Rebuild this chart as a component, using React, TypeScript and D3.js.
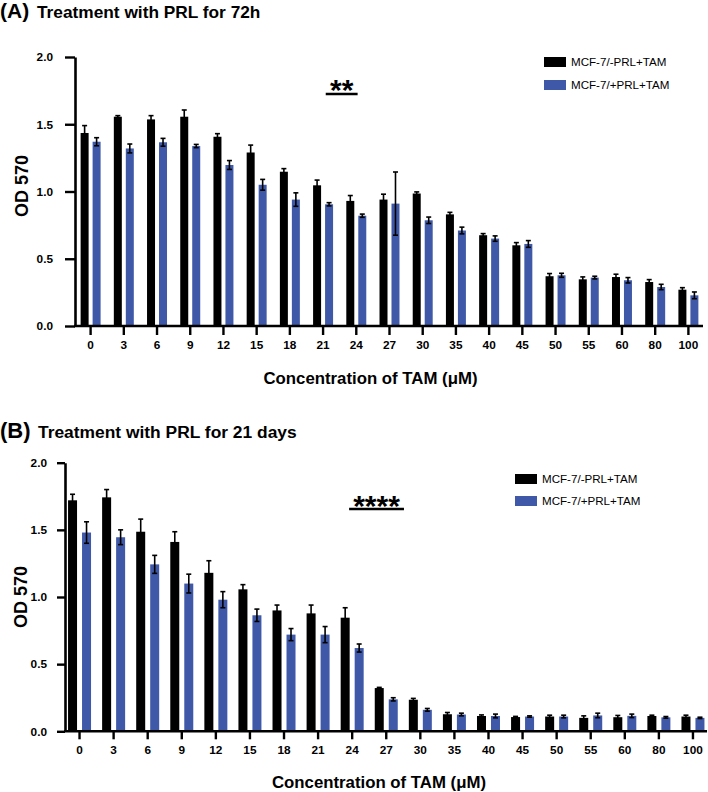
import React, { useEffect, useRef } from 'react';
import * as d3 from 'd3';

const concentrations = ['0', '3', '6', '9', '12', '15', '18', '21', '24', '27', '30', '35', '40', '45', '50', '55', '60', '80', '100'];
const seriesLabels = ['MCF-7/-PRL+TAM', 'MCF-7/+PRL+TAM'];
const seriesColors = ['#000000', '#3f59a8'];
const yTicks = [0, 0.5, 1.0, 1.5, 2.0];

// (A) 72h treatment
const a72NoPrl = [1.435, 1.556, 1.536, 1.556, 1.407, 1.29, 1.147, 1.046, 0.93, 0.94, 0.985, 0.83, 0.675, 0.6, 0.37, 0.347, 0.364, 0.327, 0.27];
const a72NoPrlErr = [0.055, 0.008, 0.028, 0.05, 0.023, 0.055, 0.023, 0.039, 0.04, 0.04, 0.012, 0.015, 0.012, 0.02, 0.02, 0.018, 0.021, 0.018, 0.015];
const a72Prl = [1.37, 1.32, 1.366, 1.338, 1.197, 1.05, 0.94, 0.905, 0.82, 0.91, 0.786, 0.71, 0.65, 0.61, 0.377, 0.36, 0.34, 0.29, 0.228];
const a72PrlErr = [0.03, 0.033, 0.029, 0.012, 0.033, 0.04, 0.05, 0.012, 0.012, 0.235, 0.024, 0.025, 0.02, 0.025, 0.015, 0.01, 0.02, 0.02, 0.025];

// (B) 21 days treatment
const b21NoPrl = [1.72, 1.742, 1.486, 1.41, 1.18, 1.057, 0.9, 0.878, 0.846, 0.322, 0.235, 0.127, 0.114, 0.106, 0.11, 0.1, 0.105, 0.114, 0.11];
const b21NoPrlErr = [0.045, 0.058, 0.094, 0.076, 0.09, 0.035, 0.04, 0.062, 0.074, 0.005, 0.01, 0.013, 0.008, 0.005, 0.01, 0.015, 0.013, 0.006, 0.01];
const b21Prl = [1.48, 1.445, 1.243, 1.1, 0.98, 0.864, 0.72, 0.72, 0.62, 0.238, 0.16, 0.125, 0.114, 0.11, 0.11, 0.118, 0.115, 0.104, 0.1];
const b21PrlErr = [0.08, 0.055, 0.067, 0.07, 0.06, 0.046, 0.045, 0.06, 0.03, 0.012, 0.01, 0.01, 0.014, 0.005, 0.01, 0.017, 0.013, 0.006, 0.005];

const FONT = "'Liberation Sans', Arial, Helvetica, sans-serif";

interface PanelLayout {
  letter: string;
  title: string;
  titleY: number;
  letterSize: number;
  titleSize: number;
  titleX: number;
  axisX: number;
  rangeX: [number, number];
  axisEnd: number;
  y0: number;
  yTop: number;
  yTickSize: number;
  yTickPad: number;
  xTickSize: number;
  padInner: number;
  padOuter: number;
  yLabelX: number;
  yLabelY: number;
  xLabelX: number;
  xLabelY: number;
  sig: { text: string; from: [string, number]; to: [string, number]; lineY: number; textY: number; size: number };
  legendX: number;
  legendY: number;
  legendGap: number;
}

const panelA: PanelLayout = {
  letter: '(A)', title: 'Treatment with PRL for 72h', titleY: 18, letterSize: 21, titleSize: 17.3, titleX: 37,
  axisX: 75, rangeX: [74, 705], axisEnd: 703, y0: 326, yTop: 57,
  yTickSize: 10, yTickPad: 12, xTickSize: 9,
  padInner: 0.333, padOuter: 0.552,
  yLabelX: 28, yLabelY: 186, xLabelX: 370.5, xLabelY: 384,
  sig: { text: '**', from: ['21', 0.58], to: ['24', 0.54], lineY: 94, textY: 100, size: 30 },
  legendX: 544, legendY: 57, legendGap: 23,
};

const panelB: PanelLayout = {
  letter: '(B)', title: 'Treatment with PRL for 21 days', titleY: 438, letterSize: 22, titleSize: 17.4, titleX: 38,
  axisX: 65, rangeX: [62.5, 710], axisEnd: 707, y0: 731.3, yTop: 462.7,
  yTickSize: 8, yTickPad: 10, xTickSize: 8,
  padInner: 0.357, padOuter: 0.396,
  yLabelX: 27, yLabelY: 597, xLabelX: 379, xLabelY: 788,
  sig: { text: '****', from: ['24', 0.41], to: ['27', 1.02], lineY: 509, textY: 516, size: 30 },
  legendX: 515, legendY: 474, legendGap: 22,
};

function drawPanel(
  svg: d3.Selection<SVGSVGElement, unknown, null, undefined>,
  L: PanelLayout,
  means: number[][],
  errs: number[][]
) {
  const g = svg.append('g');

  const x0 = d3.scaleBand<string>().domain(concentrations).range(L.rangeX);
  const x1 = d3.scaleBand<number>()
    .domain([0, 1])
    .range([0, x0.bandwidth()])
    .paddingInner(L.padInner)
    .paddingOuter(L.padOuter);
  const y = d3.scaleLinear().domain([0, 2]).range([L.y0, L.yTop]);

  // title
  const title = g.append('text')
    .attr('x', 0)
    .attr('y', L.titleY)
    .style('font-family', FONT)
    .style('font-weight', 'bold');
  title.append('tspan').attr('font-size', L.letterSize).text(L.letter);
  title.append('tspan').attr('x', L.titleX).attr('font-size', L.titleSize).text(L.title);

  // bars
  means.forEach((series, si) => {
    g.append('g')
      .selectAll('rect')
      .data(series)
      .join('rect')
      .attr('x', (_, i) => (x0(concentrations[i]) || 0) + (x1(si) || 0))
      .attr('y', d => y(d))
      .attr('width', x1.bandwidth())
      .attr('height', d => y(0) - y(d))
      .attr('fill', seriesColors[si]);
  });

  // error bars
  const capW = 5;
  means.forEach((series, si) => {
    const eg = g.append('g').attr('stroke', '#000').attr('stroke-width', 1.6);
    series.forEach((v, i) => {
      const cx = (x0(concentrations[i]) || 0) + (x1(si) || 0) + x1.bandwidth() / 2;
      const e = errs[si][i];
      const yHi = y(v + e);
      const yLo = y(v - e);
      eg.append('line').attr('x1', cx).attr('x2', cx).attr('y1', yLo).attr('y2', yHi);
      eg.append('line').attr('x1', cx - capW / 2).attr('x2', cx + capW / 2).attr('y1', yHi).attr('y2', yHi);
      eg.append('line').attr('x1', cx - capW / 2).attr('x2', cx + capW / 2).attr('y1', yLo).attr('y2', yLo);
    });
  });

  // y axis
  const yAxis = g.append('g')
    .attr('transform', `translate(${L.axisX},0)`)
    .call(d3.axisLeft(y)
      .tickValues(yTicks)
      .tickSize(L.yTickSize)
      .tickSizeOuter(0)
      .tickPadding(L.yTickPad)
      .tickFormat(d3.format('.1f')));

  // x axis
  const xAxis = g.append('g')
    .attr('transform', `translate(0,${L.y0})`)
    .call(d3.axisBottom(x0).tickSize(L.xTickSize).tickSizeOuter(0).tickPadding(6));
  xAxis.select('.domain').attr('d', `M${L.axisX - 1},0H${L.axisEnd}`);

  [yAxis, xAxis].forEach(ax => {
    ax.select('.domain').attr('stroke', '#000').attr('stroke-width', 2.6);
    ax.selectAll('.tick line').attr('stroke', '#000').attr('stroke-width', 2.4);
    ax.selectAll('.tick text')
      .attr('fill', '#000')
      .style('font-family', FONT)
      .style('font-weight', 'bold')
      .style('font-size', '11.8px');
  });

  // axis labels
  g.append('text')
    .attr('transform', `translate(${L.yLabelX},${L.yLabelY}) rotate(-90)`)
    .attr('text-anchor', 'middle')
    .style('font-family', FONT)
    .style('font-weight', 'bold')
    .style('font-size', '18px')
    .text('OD 570');

  g.append('text')
    .attr('x', L.xLabelX)
    .attr('y', L.xLabelY)
    .attr('text-anchor', 'middle')
    .style('font-family', FONT)
    .style('font-weight', 'bold')
    .style('font-size', '16.8px')
    .text('Concentration of TAM (\u03bcM)');

  // significance bracket
  const step = x0.step();
  const sx1 = (x0(L.sig.from[0]) || 0) + L.sig.from[1] * step;
  const sx2 = (x0(L.sig.to[0]) || 0) + L.sig.to[1] * step;
  g.append('line')
    .attr('x1', sx1).attr('x2', sx2)
    .attr('y1', L.sig.lineY).attr('y2', L.sig.lineY)
    .attr('stroke', '#000').attr('stroke-width', 2.4);
  g.append('text')
    .attr('x', (sx1 + sx2) / 2)
    .attr('y', L.sig.textY)
    .attr('text-anchor', 'middle')
    .style('font-family', FONT)
    .style('font-weight', 'bold')
    .style('font-size', `${L.sig.size}px`)
    .text(L.sig.text);

  // legend
  const legend = g.append('g').attr('transform', `translate(${L.legendX},${L.legendY})`);
  seriesLabels.forEach((label, i) => {
    legend.append('rect')
      .attr('x', 0).attr('y', i * L.legendGap)
      .attr('width', 22).attr('height', 10)
      .attr('fill', seriesColors[i]);
    legend.append('text')
      .attr('x', 27).attr('y', i * L.legendGap + 9)
      .style('font-family', FONT)
      .style('font-size', '11.6px')
      .text(label);
  });
}

export default function App() {
  const svgRef = useRef<SVGSVGElement>(null);

  useEffect(() => {
    if (!svgRef.current) return;
    const svg = d3.select(svgRef.current);
    svg.selectAll('*').remove();
    drawPanel(svg, panelA, [a72NoPrl, a72Prl], [a72NoPrlErr, a72PrlErr]);
    drawPanel(svg, panelB, [b21NoPrl, b21Prl], [b21NoPrlErr, b21PrlErr]);
  }, []);

  return (
    <svg
      ref={svgRef}
      width={708}
      height={792}
      style={{ position: 'absolute', left: 0, top: 0, display: 'block', background: '#fff' }}
    />
  );
}
